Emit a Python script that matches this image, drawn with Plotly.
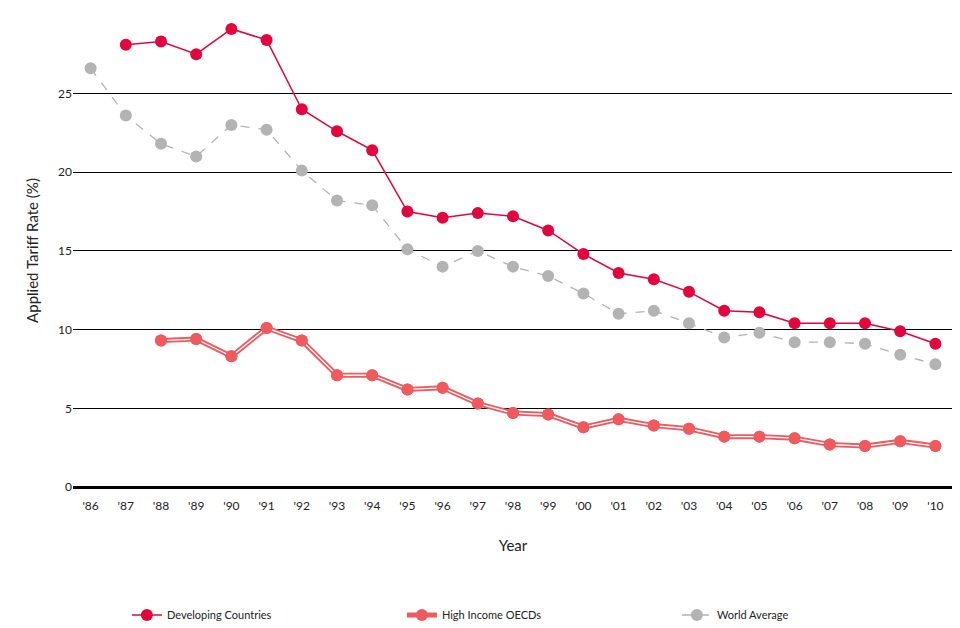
import plotly.graph_objects as go

years = ["'%02d" % (y % 100) for y in range(1986, 2011)]
developing = [None, 28.1, 28.3, 27.5, 29.1, 28.4, 24.0, 22.6, 21.4, 17.5, 17.1, 17.4, 17.2, 16.3,
              14.8, 13.6, 13.2, 12.4, 11.2, 11.1, 10.4, 10.4, 10.4, 9.9, 9.1]
high_income = [None, None, 9.3, 9.4, 8.3, 10.1, 9.3, 7.1, 7.1, 6.2, 6.3, 5.3, 4.7, 4.6,
               3.8, 4.3, 3.9, 3.7, 3.2, 3.2, 3.1, 2.7, 2.6, 2.9, 2.6]
world = [26.6, 23.6, 21.8, 21.0, 23.0, 22.7, 20.1, 18.2, 17.9, 15.1, 14.0, 15.0, 14.0, 13.4,
         12.3, 11.0, 11.2, 10.4, 9.5, 9.8, 9.2, 9.2, 9.1, 8.4, 7.8]

red = '#e2063c'
pink = '#f0595e'
grey = '#b3b3b3'

fig = go.Figure()
fig.add_trace(go.Scatter(x=years, y=world, mode='lines+markers', name='World Average',
                         line=dict(color=grey, width=1.3, dash='dash'),
                         marker=dict(size=12, color=grey), legendrank=3))
# double line: thick pink with a thin white stripe in the middle
fig.add_trace(go.Scatter(x=years, y=high_income, mode='lines+markers', name='High Income OECDs',
                         line=dict(color=pink, width=5), marker=dict(size=12, color=pink), legendrank=2))
fig.add_trace(go.Scatter(x=years, y=high_income, mode='lines', showlegend=False, hoverinfo='skip',
                         line=dict(color='white', width=1.3)))
fig.add_trace(go.Scatter(x=years, y=high_income, mode='markers', showlegend=False, hoverinfo='skip',
                         marker=dict(size=12, color=pink)))
fig.add_trace(go.Scatter(x=years, y=developing, mode='lines+markers', name='Developing Countries',
                         line=dict(color=red, width=1.5), marker=dict(size=12, color=red), legendrank=1))

fig.update_layout(
    width=960, height=628, plot_bgcolor='white', paper_bgcolor='white',
    margin=dict(l=65, r=15, t=7, b=123),
    font=dict(family='Lato', size=12, color='#222'),
    legend=dict(orientation='h', x=0.53, xanchor='center', y=-0.24, yanchor='top',
                font=dict(size=11), entrywidth=230, traceorder='normal'),
)
fig.update_xaxes(title=dict(text='Year', font=dict(size=15), standoff=28), showgrid=False,
                 range=[-0.5, 24.5], ticks='', tickfont=dict(size=12), ticklabelstandoff=10)
fig.update_yaxes(title=dict(text='Applied Tariff Rate (%)', font=dict(size=15)),
                 range=[0, 30.05], tickvals=[0, 5, 10, 15, 20, 25, 30], gridcolor='black', gridwidth=1.2,
                 zeroline=True, zerolinecolor='black', zerolinewidth=3, ticks='',
                 tickfont=dict(size=12))
fig.update_layout(margin=dict(b=123, t=6))
fig.write_html("out.html")
